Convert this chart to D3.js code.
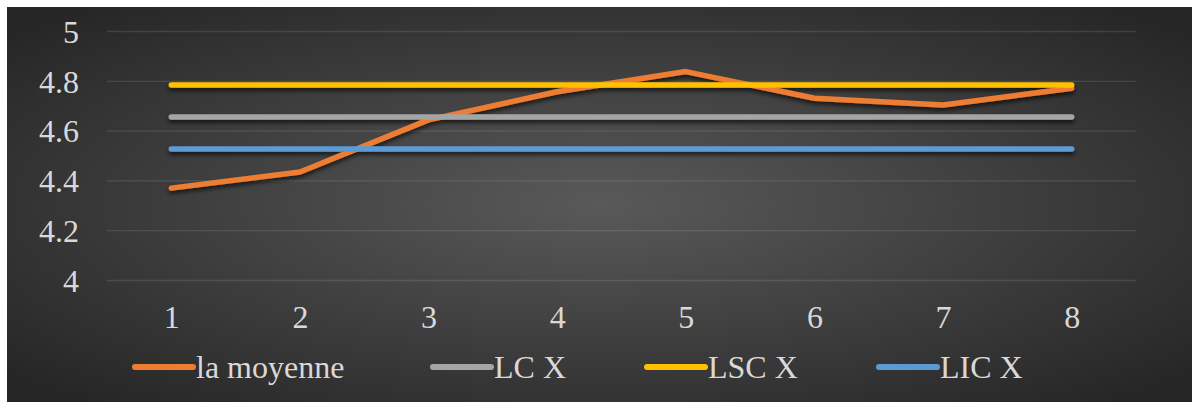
<!DOCTYPE html>
<html>
<head>
<meta charset="utf-8">
<script src="https://cdn.jsdelivr.net/npm/d3@7"></script>
<style>
  html, body { margin: 0; padding: 0; background: #ffffff; }
  svg { display: block; }
  text { font-family: "Liberation Serif", "Times New Roman", serif; fill: #d9d9d9; }
</style>
</head>
<body>
<svg id="chart" width="1192" height="402"></svg>
<script>
// Category labels on the x axis
const categories = [1, 2, 3, 4, 5, 6, 7, 8];

// Series values
const moyenne = [4.369, 4.434, 4.643, 4.756, 4.837, 4.730, 4.703, 4.770];
const lcX     = [4.655, 4.655, 4.655, 4.655, 4.655, 4.655, 4.655, 4.655];
const lscX    = [4.783, 4.783, 4.783, 4.783, 4.783, 4.783, 4.783, 4.783];
const licX    = [4.526, 4.526, 4.526, 4.526, 4.526, 4.526, 4.526, 4.526];

// Y axis ticks
const yTicks = [4, 4.2, 4.4, 4.6, 4.8, 5];

const seriesNames  = ["la moyenne", "LC X", "LSC X", "LIC X"];
const seriesColors = ["#ED7D31", "#A5A5A5", "#FFC000", "#5B9BD5"];
const seriesValues = [moyenne, lcX, lscX, licX];

const svg = d3.select("#chart");
const W = 1192, H = 402;

// Background with a radial gradient, lighter in the middle
const defs = svg.append("defs");
const grad = defs.append("radialGradient")
  .attr("id", "bg").attr("cx", "50%").attr("cy", "50%").attr("r", "66%");
grad.append("stop").attr("offset", "0%").attr("stop-color", "#595959");
grad.append("stop").attr("offset", "100%").attr("stop-color", "#262626");

const shadow = defs.append("filter").attr("id", "shadow")
  .attr("x", "-5%").attr("y", "-50%").attr("width", "110%").attr("height", "200%");
shadow.append("feDropShadow")
  .attr("dx", 0).attr("dy", 3).attr("stdDeviation", 2.2)
  .attr("flood-color", "#000").attr("flood-opacity", 0.65);

svg.append("rect")
  .attr("x", 7).attr("y", 7).attr("width", W - 7).attr("height", H - 7)
  .attr("fill", "url(#bg)");

// Scales
const plot = { left: 107, right: 1136, top: 31, bottom: 280 };
const x = d3.scalePoint().domain(categories).range([plot.left, plot.right]).padding(0.5);
const y = d3.scaleLinear().domain([4, 5]).range([plot.bottom, plot.top]);

// Gridlines + y tick labels
const yAxis = d3.axisLeft(y).tickValues(yTicks).tickFormat(d3.format("~g"))
  .tickSize(-(plot.right - plot.left)).tickPadding(28);
const gy = svg.append("g").attr("transform", `translate(${plot.left},0)`).call(yAxis);
gy.select(".domain").remove();
gy.selectAll(".tick line").attr("stroke", "rgba(255,255,255,0.11)").attr("stroke-width", 1.3);
gy.selectAll(".tick text")
  .attr("font-size", 32).attr("fill", "#d9d9d9").attr("dy", "0.35em")
  .style("font-family", "'Liberation Serif', serif");

// X tick labels
const xAxis = d3.axisBottom(x).tickSize(0).tickPadding(0);
const gx = svg.append("g").attr("transform", `translate(0,${plot.bottom})`).call(xAxis);
gx.select(".domain").remove();
gx.selectAll(".tick text")
  .attr("font-size", 32).attr("fill", "#d9d9d9").attr("y", 48).attr("dy", 0)
  .style("font-family", "'Liberation Serif', serif");

// Series lines
const line = d3.line().x((d, i) => x(categories[i])).y(d => y(d));
const gLines = svg.append("g").attr("filter", "url(#shadow)");
seriesValues.forEach((vals, k) => {
  gLines.append("path")
    .datum(vals)
    .attr("d", line)
    .attr("fill", "none")
    .attr("stroke", seriesColors[k])
    .attr("stroke-width", 5.5)
    .attr("stroke-linecap", "round")
    .attr("stroke-linejoin", "round");
});

// Legend
const legendX = [135, 433, 647, 879];
const legendY = 367;
const legend = svg.append("g");
seriesNames.forEach((name, k) => {
  const g = legend.append("g").attr("transform", `translate(${legendX[k]},${legendY})`);
  g.append("line")
    .attr("x1", 0).attr("x2", 58).attr("y1", 0).attr("y2", 0)
    .attr("stroke", seriesColors[k]).attr("stroke-width", 6)
    .attr("stroke-linecap", "round");
  g.append("text")
    .attr("x", 61).attr("y", 11)
    .attr("font-size", 32)
    .text(name);
});
</script>
</body>
</html>
